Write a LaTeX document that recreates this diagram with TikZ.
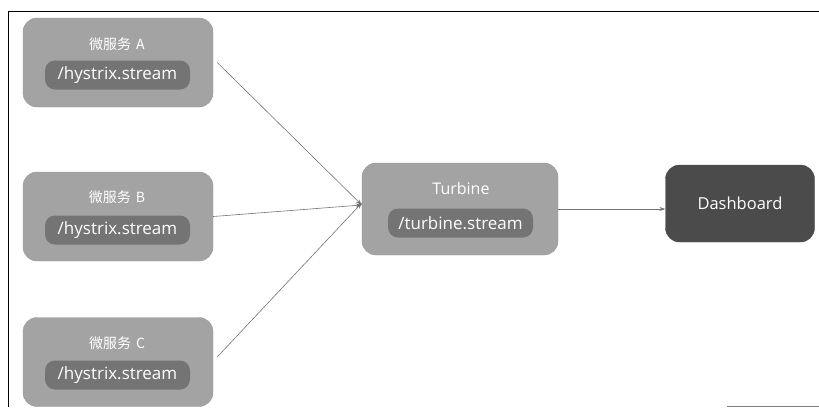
\documentclass[tikz,border=0pt]{standalone}
\usepackage{fontspec}
\setmainfont{Open Sans}
\newfontfamily\cjk{Noto Sans CJK SC}
\usetikzlibrary{arrows.meta}
\definecolor{boxgray}{HTML}{A3A3A3}
\definecolor{innergray}{HTML}{747474}
\definecolor{dashgray}{HTML}{4B4B4B}
\tikzset{
  outerbox/.style={draw=gray!80, fill=boxgray, rounded corners=14pt, minimum width=190pt, minimum height=89pt, inner sep=0pt},
  innerbox/.style={fill=innergray, rounded corners=10pt, minimum width=145pt, minimum height=29pt, inner sep=0pt, text=white, font=\fontsize{17}{19}\selectfont},
  titletext/.style={inner sep=0pt, text=white, font=\cjk\fontsize{14}{16}\selectfont},
  dashbox/.style={draw=gray!60!black, fill=dashgray, rounded corners=14pt, minimum width=149pt, minimum height=77pt, inner sep=0pt, text=white, font=\fontsize{16.5}{19}\selectfont},
  conn/.style={draw=gray!90!black, line width=0.6pt, -{Stealth[length=6pt,width=4pt]}},
}
\begin{document}
\begin{tikzpicture}[x=1pt,y=-1pt]
\useasboundingbox (0,0) rectangle (819,407);
% frame
\draw[black, line width=0.8pt] (819,11) -- (8,11) -- (8,407);
\draw[gray, line width=0.8pt] (727,406) -- (819,406);
% A
\node[outerbox] (A) at (118,62.5) {};
\node[titletext] (At) at (117,44) {微服务\hspace{5pt}A};
\node[innerbox] (Ai) at (117.5,75) {/hystrix.stream};
% B
\node[outerbox] (B) at (118,216.5) {};
\node[titletext] (Bt) at (117,197) {微服务\hspace{5pt}B};
\node[innerbox] (Bi) at (117.5,230) {/hystrix.stream};
% C
\node[outerbox] (C) at (118,362) {};
\node[titletext] (Ct) at (117,343) {微服务\hspace{5pt}C};
\node[innerbox] (Ci) at (117.5,375) {/hystrix.stream};
% Turbine
\node[outerbox, minimum width=196pt, minimum height=92pt] (T) at (460,209) {};
\node[titletext, font=\fontsize{16}{18}\selectfont] (Tt) at (461,188) {Turbine};
\node[innerbox] (Ti) at (460.5,223) {/turbine.stream};
% Dashboard
\node[dashbox] (D) at (740,203.5) {Dashboard};
% connectors
\draw[conn] (A.east) ++(4,0) coordinate (a1) (a1) -- ([yshift=4pt]T.west);
\draw[conn] (B.east) -- ([yshift=4pt]T.west);
\draw[conn] (C.east) ++(4,-5) coordinate (c1) (c1) -- ([yshift=6pt]T.west);
\draw[conn] (T.east) -- (D.west |- T.east);
\end{tikzpicture}
\end{document}
